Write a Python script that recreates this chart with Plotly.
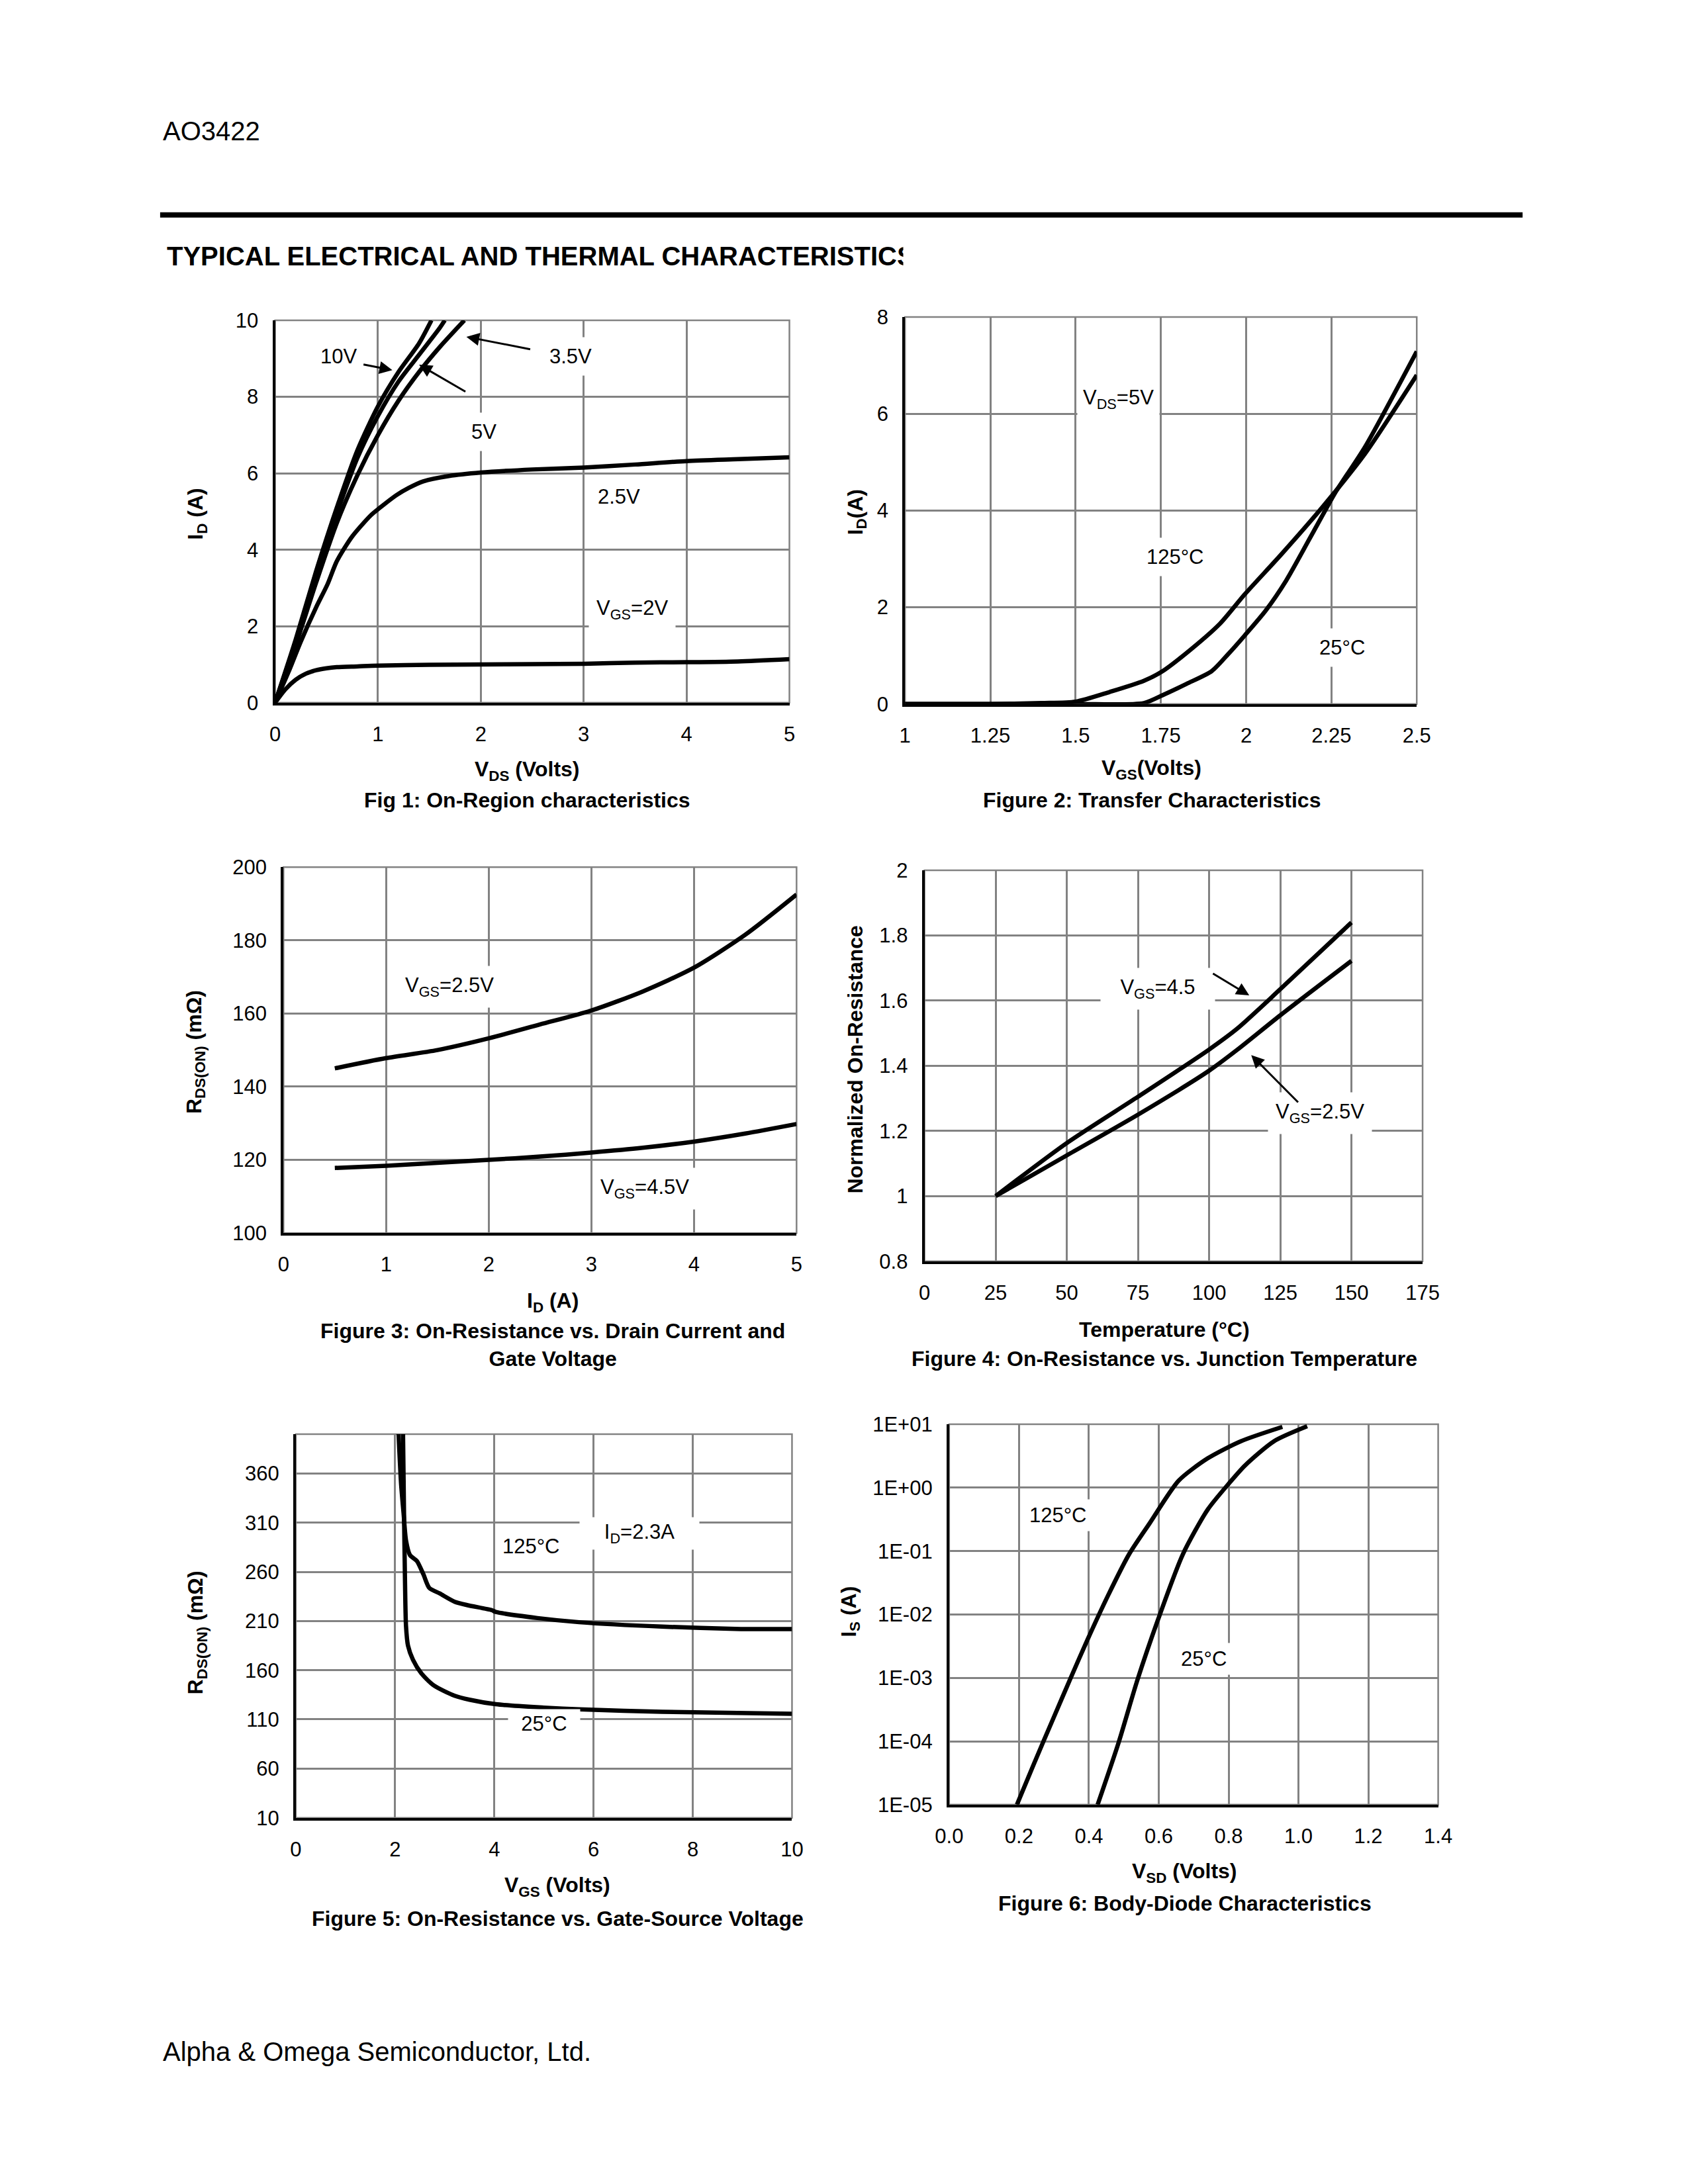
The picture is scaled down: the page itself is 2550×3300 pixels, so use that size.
import plotly.graph_objects as go

# page canvas the reference uses; the figure is shrunk by the 8px body margin on each side
PAGE_W, PAGE_H = 2550, 3300
MARGIN = 8
W, H = PAGE_W - 2 * MARGIN - 2, PAGE_H - 2 * MARGIN - 4
FONT = "Liberation Sans, Arial, sans-serif"
GRID = "#828282"

# ---------------- data ----------------
# Fig 1: On-region characteristics (VDS in V, ID in A)
f1_vds_10v = [0, 0.2, 0.4, 0.6, 0.8, 1.0, 1.2, 1.4, 1.52]
f1_id_10v = [0, 1.65, 3.45, 5.1, 6.6, 7.75, 8.65, 9.4, 10.0]
f1_vds_5v = [0, 0.2, 0.4, 0.6, 0.8, 1.0, 1.2, 1.4, 1.6, 1.65]
f1_id_5v = [0, 1.6, 3.35, 4.95, 6.4, 7.5, 8.4, 9.1, 9.8, 10.0]
f1_vds_35v = [0, 0.2, 0.4, 0.6, 0.8, 1.0, 1.2, 1.4, 1.6, 1.84]
f1_id_35v = [0, 1.5, 3.15, 4.7, 5.95, 7.0, 7.9, 8.65, 9.3, 10.0]
f1_vds_25v = [0, 0.13, 0.25, 0.4, 0.51, 0.6, 0.75, 0.93, 1.01, 1.18, 1.3, 1.44, 1.69, 2.0, 2.5, 3.0, 3.5, 4.0, 4.5, 5.0]
f1_id_25v = [0, 0.8, 1.6, 2.5, 3.1, 3.7, 4.35, 4.9, 5.08, 5.43, 5.62, 5.79, 5.93, 6.02, 6.1, 6.15, 6.23, 6.32, 6.37, 6.42]
f1_vds_2v = [0, 0.1, 0.2, 0.3, 0.4, 0.5, 0.6, 0.8, 1.0, 1.5, 2.0, 2.5, 3.0, 3.5, 4.0, 4.5, 5.0]
f1_id_2v = [0, 0.35, 0.6, 0.76, 0.85, 0.9, 0.93, 0.95, 0.97, 0.99, 1.0, 1.01, 1.02, 1.05, 1.06, 1.08, 1.14]

# Fig 2: Transfer characteristics (VGS in V, ID in A)
f2_vgs_125 = [1.0, 1.25, 1.4, 1.5, 1.6, 1.7, 1.753, 1.838, 1.923, 1.996, 2.105, 2.227, 2.348, 2.5]
f2_id_125 = [0, 0, 0.02, 0.05, 0.25, 0.48, 0.67, 1.13, 1.66, 2.27, 3.11, 4.1, 5.17, 6.8]
f2_vgs_25 = [1.0, 1.5, 1.7, 1.76, 1.826, 1.899, 1.947, 1.996, 2.057, 2.117, 2.19, 2.263, 2.348, 2.5]
f2_id_25 = [0, 0, 0.02, 0.2, 0.42, 0.68, 1.03, 1.42, 1.93, 2.55, 3.47, 4.39, 5.31, 7.29]

# Fig 3: On-resistance vs drain current (ID in A, RDS(ON) in mOhm)
f3_id = [0.5, 1.0, 1.5, 2.0, 2.5, 3.0, 3.5, 4.0, 4.5, 5.0]
f3_r_25v = [145.0, 147.8, 150.0, 153.2, 157.0, 160.8, 166.0, 172.5, 181.5, 192.5]
f3_r_45v = [117.8, 118.4, 119.2, 120.0, 120.9, 122.0, 123.3, 125.0, 127.2, 129.8]

# Fig 4: Normalized on-resistance vs temperature
f4_temp = [25, 50, 75, 100, 110, 125, 150]
f4_r_45 = [1.0, 1.163, 1.305, 1.45, 1.515, 1.635, 1.84]
f4_r_25 = [1.0, 1.125, 1.25, 1.385, 1.45, 1.555, 1.722]

# Fig 5: On-resistance vs gate-source voltage (VGS in V, RDS(ON) in mOhm)
f5_vgs_125 = [2.07, 2.12, 2.17, 2.22, 2.3, 2.44, 2.57, 2.69, 2.9, 3.2, 3.45, 3.95, 4.03, 4.87, 5.71, 7.38, 8.97, 10.0]
f5_r_125 = [400, 350, 320, 292, 277, 271, 257.5, 243.6, 238, 229.6, 226.2, 221, 219.2, 213, 208.8, 204.3, 201.9, 201.9]
f5_vgs_25 = [2.16, 2.18, 2.2, 2.22, 2.26, 2.36, 2.53, 2.78, 3.2, 3.5, 4.03, 5.0, 5.71, 7.38, 10.0]
f5_r_25 = [400, 320, 250, 205, 185, 170.6, 156.7, 144.5, 134, 130, 125.4, 122, 120.2, 117.7, 115.7]

# Fig 6: Body-diode characteristics (VSD in V, IS in A)
f6_vsd_125 = [0.194, 0.241, 0.301, 0.348, 0.396, 0.455, 0.515, 0.574, 0.657, 0.740, 0.835, 0.954]
f6_is_125 = [1e-5, 4.2e-5, 2.5e-4, 1.0e-3, 4.0e-3, 2.0e-2, 8.9e-2, 0.275, 1.29, 2.9, 5.4, 9.1]
f6_vsd_25 = [0.425, 0.485, 0.538, 0.598, 0.669, 0.740, 0.800, 0.847, 0.930, 1.025]
f6_is_25 = [1e-5, 9.5e-5, 8.9e-4, 8.3e-3, 8.9e-2, 0.45, 1.15, 2.24, 5.4, 9.3]

# tick labels
f2_xticks = [1, 1.25, 1.5, 1.75, 2, 2.25, 2.5]
f2_xtext = ["1", "1.25", "1.5", "1.75", "2", "2.25", "2.5"]
f4_yticks = [0.8, 1.0, 1.2, 1.4, 1.6, 1.8, 2.0]
f4_ytext = ["0.8", "1", "1.2", "1.4", "1.6", "1.8", "2"]
f5_yticks = [10, 60, 110, 160, 210, 260, 310, 360]
f6_yticks = [1e-5, 1e-4, 1e-3, 1e-2, 1e-1, 1e0, 1e1]
f6_ytext = ["1E-05", "1E-04", "1E-03", "1E-02", "1E-01", "1E+00", "1E+01"]
f6_xticks = [0, 0.2, 0.4, 0.6, 0.8, 1.0, 1.2, 1.4]
f6_xtext = ["0.0", "0.2", "0.4", "0.6", "0.8", "1.0", "1.2", "1.4"]

# ---------------- layout helpers ----------------
def fx(p):
    return (p - MARGIN) / W

def fy(p):
    return 1 - (p - MARGIN) / H

fig = go.Figure()

# panel page-pixel boxes (left, right, top, bottom)
panels = {
    1: (401, 1193, 472, 1056),
    2: (1371, 2159, 467, 1058),
    3: (414, 1204, 1307, 1866),
    4: (1401, 2168, 1312, 1909),
    5: (433, 1197, 2173, 2759),
    6: (1439, 2192, 2158, 2739),
}

tickfont = dict(family=FONT, size=31, color="black")

def axis_common():
    return dict(showgrid=True, gridcolor=GRID, gridwidth=2.5, zeroline=False,
                showline=True, linecolor="black", linewidth=4, mirror=False,
                ticks="", tickfont=tickfont)

axis_cfg = {
    1: (dict(range=[0, 5], dtick=1, tick0=0), dict(range=[0, 10], dtick=2, tick0=0)),
    2: (dict(range=[1, 2.5], tickvals=f2_xticks, ticktext=f2_xtext), dict(range=[0, 8], dtick=2, tick0=0)),
    3: (dict(range=[0, 5], dtick=1, tick0=0), dict(range=[100, 200], dtick=20, tick0=100)),
    4: (dict(range=[0, 175], dtick=25, tick0=0), dict(range=[0.8, 2.0], tickvals=f4_yticks, ticktext=f4_ytext)),
    5: (dict(range=[0, 10], dtick=2, tick0=0), dict(range=[10, 400], tickvals=f5_yticks)),
    6: (dict(range=[0, 1.4], tickvals=f6_xticks, ticktext=f6_xtext), dict(type="log", range=[-5, 1], tickvals=f6_yticks, ticktext=f6_ytext)),
}

lay = {}
for n, (l, r, t, b) in panels.items():
    xa, ya = axis_cfg[n]
    xk = "xaxis" if n == 1 else f"xaxis{n}"
    yk = "yaxis" if n == 1 else f"yaxis{n}"
    xd = axis_common(); xd.update(xa)
    xd.update(domain=[fx(l), fx(r)], anchor="y" if n == 1 else f"y{n}", ticklabelstandoff=17)
    yd = axis_common(); yd.update(ya)
    yd.update(domain=[fy(b), fy(t)], anchor="x" if n == 1 else f"x{n}", ticklabelstandoff=15)
    lay[xk] = xd
    lay[yk] = yd

line = dict(color="black", width=6.5)

def add(n, x, y, shape="spline"):
    fig.add_trace(go.Scatter(x=x, y=y, mode="lines", line=dict(line, shape=shape, smoothing=0.7), showlegend=False,
                             xaxis="x" if n == 1 else f"x{n}", yaxis="y" if n == 1 else f"y{n}",
                             hoverinfo="skip"))

add(1, f1_vds_2v, f1_id_2v)
add(1, f1_vds_25v, f1_id_25v)
add(1, f1_vds_35v, f1_id_35v)
add(1, f1_vds_5v, f1_id_5v)
add(1, f1_vds_10v, f1_id_10v)
add(2, f2_vgs_125, f2_id_125)
add(2, f2_vgs_25, f2_id_25)
add(3, f3_id, f3_r_25v)
add(3, f3_id, f3_r_45v)
add(4, f4_temp, f4_r_45)
add(4, f4_temp, f4_r_25)
add(5, f5_vgs_125, f5_r_125)
add(5, f5_vgs_25, f5_r_25)
add(6, f6_vsd_125, f6_is_125)
add(6, f6_vsd_25, f6_is_25)

ann = []
shapes = []

# gray frame for every panel (top/right borders)
for n, (l, r, t, b) in panels.items():
    shapes.append(dict(type="rect", xref="paper", yref="paper", x0=fx(l), x1=fx(r), y0=fy(b), y1=fy(t),
                       line=dict(color=GRID, width=2.5), layer="below"))

# header rule
shapes.append(dict(type="line", xref="paper", yref="paper", x0=fx(224), x1=fx(2322), y0=fy(311), y1=fy(311),
                   line=dict(color="black", width=8)))

def ptext(text, x, y, size=31, bold=False, angle=0, xanchor="center", yanchor="middle"):
    ann.append(dict(text=text, x=fx(x), y=fy(y), xref="paper", yref="paper", showarrow=False,
                    xanchor=xanchor, yanchor=yanchor, textangle=angle,
                    font=dict(family=FONT, size=size, color="black", weight="bold" if bold else "normal")))

# page texts
ptext("AO3422", 226, 183, size=40, xanchor="left")
ptext("TYPICAL ELECTRICAL AND THERMAL CHARACTERISTICS", 232, 374, size=40, bold=True, xanchor="left")
ann.append(dict(text=" ", x=fx(1368), y=fy(374), xref="paper", yref="paper", showarrow=False,
                xanchor="left", yanchor="middle", width=60, height=70, bgcolor="white"))
ptext("Alpha &amp; Omega Semiconductor, Ltd.", 226, 3116, size=40, xanchor="left")

# axis titles and captions
ptext("I<sub>D</sub> (A)", 281, 768, size=32, bold=True, angle=-90)
ptext("V<sub>DS</sub> (Volts)", 789, 1160, size=32, bold=True)
ptext("Fig 1: On-Region characteristics", 789, 1205, size=32, bold=True)

ptext("I<sub>D</sub>(A)", 1297, 765, size=32, bold=True, angle=-90)
ptext("V<sub>GS</sub>(Volts)", 1751, 1158, size=32, bold=True)
ptext("Figure 2: Transfer Characteristics", 1751, 1205, size=32, bold=True)

ptext("R<sub>DS(ON)</sub> (mΩ)", 278, 1589, size=32, bold=True, angle=-90)
ptext("I<sub>D</sub> (A)", 829, 1971, size=32, bold=True)
ptext("Figure 3: On-Resistance vs. Drain Current and<br>Gate Voltage", 829, 2037, size=32, bold=True)

ptext("Normalized On-Resistance", 1294, 1601, size=32, bold=True, angle=-90)
ptext("Temperature (°C)", 1770, 2013, size=32, bold=True)
ptext("Figure 4: On-Resistance vs. Junction Temperature", 1770, 2058, size=32, bold=True)

ptext("R<sub>DS(ON)</sub> (mΩ)", 281, 2476, size=32, bold=True, angle=-90)
ptext("V<sub>GS</sub> (Volts)", 836, 2864, size=32, bold=True)
ptext("Figure 5: On-Resistance vs. Gate-Source Voltage", 836, 2913, size=32, bold=True)

ptext("I<sub>S</sub> (A)", 1286, 2444, size=32, bold=True, angle=-90)
ptext("V<sub>SD</sub> (Volts)", 1802, 2843, size=32, bold=True)
ptext("Figure 6: Body-Diode Characteristics", 1802, 2890, size=32, bold=True)

# in-plot labels
def dtext(n, text, x, y, pad=11, width=None):
    d = dict(text=text, x=x, y=y, xref="x" if n == 1 else f"x{n}", yref="y" if n == 1 else f"y{n}",
             showarrow=False, bgcolor="white", borderpad=pad,
             font=dict(family=FONT, size=31, color="black"))
    if width:
        d["width"] = width
    ann.append(d)

def darrow(n, hx, hy, tx, ty):
    xr = "x" if n == 1 else f"x{n}"
    yr = "y" if n == 1 else f"y{n}"
    ann.append(dict(text="", x=hx, y=hy, ax=tx, ay=ty, xref=xr, yref=yr, axref=xr, ayref=yr,
                    showarrow=True, arrowhead=2, arrowsize=1.3, arrowwidth=3, arrowcolor="black"))

dtext(1, "10V", 0.62, 9.06, pad=6)
dtext(1, "3.5V", 2.87, 9.06)
dtext(1, "5V", 2.03, 7.09)
dtext(1, "2.5V", 3.34, 5.39)
dtext(1, "V<sub>GS</sub>=2V", 3.47, 2.43)
darrow(1, 1.14, 8.70, 0.85, 8.85)
darrow(1, 1.86, 9.57, 2.49, 9.24)
darrow(1, 1.40, 8.84, 1.86, 8.12)

dtext(2, "V<sub>DS</sub>=5V", 1.626, 6.31, pad=8)
dtext(2, "125°C", 1.793, 3.04)
dtext(2, "25°C", 2.281, 1.17)

dtext(3, "V<sub>GS</sub>=2.5V", 1.62, 167.3)
dtext(3, "V<sub>GS</sub>=4.5V", 3.52, 112.1)

dtext(4, "V<sub>GS</sub>=4.5", 82.0, 1.637, width=150)
dtext(4, "V<sub>GS</sub>=2.5V", 138.9, 1.254)
darrow(4, 114.1, 1.616, 101.0, 1.685)
darrow(4, 114.8, 1.433, 131.6, 1.285)

dtext(5, "125°C", 4.74, 286, pad=6)
dtext(5, "I<sub>D</sub>=2.3A", 6.92, 299, pad=4, width=172)
dtext(5, "25°C", 5.0, 105.5, pad=4, width=100)

dtext(6, "125°C", 0.3126, -0.43, pad=6)
dtext(6, "25°C", 0.7285, -2.7, pad=6)

fig.update_layout(width=W, height=H, margin=dict(l=0, r=0, t=0, b=0),
                  paper_bgcolor="white", plot_bgcolor="white",
                  font=dict(family=FONT, color="black"),
                  annotations=ann, shapes=shapes, showlegend=False, **lay)

fig.write_html("out.html")
